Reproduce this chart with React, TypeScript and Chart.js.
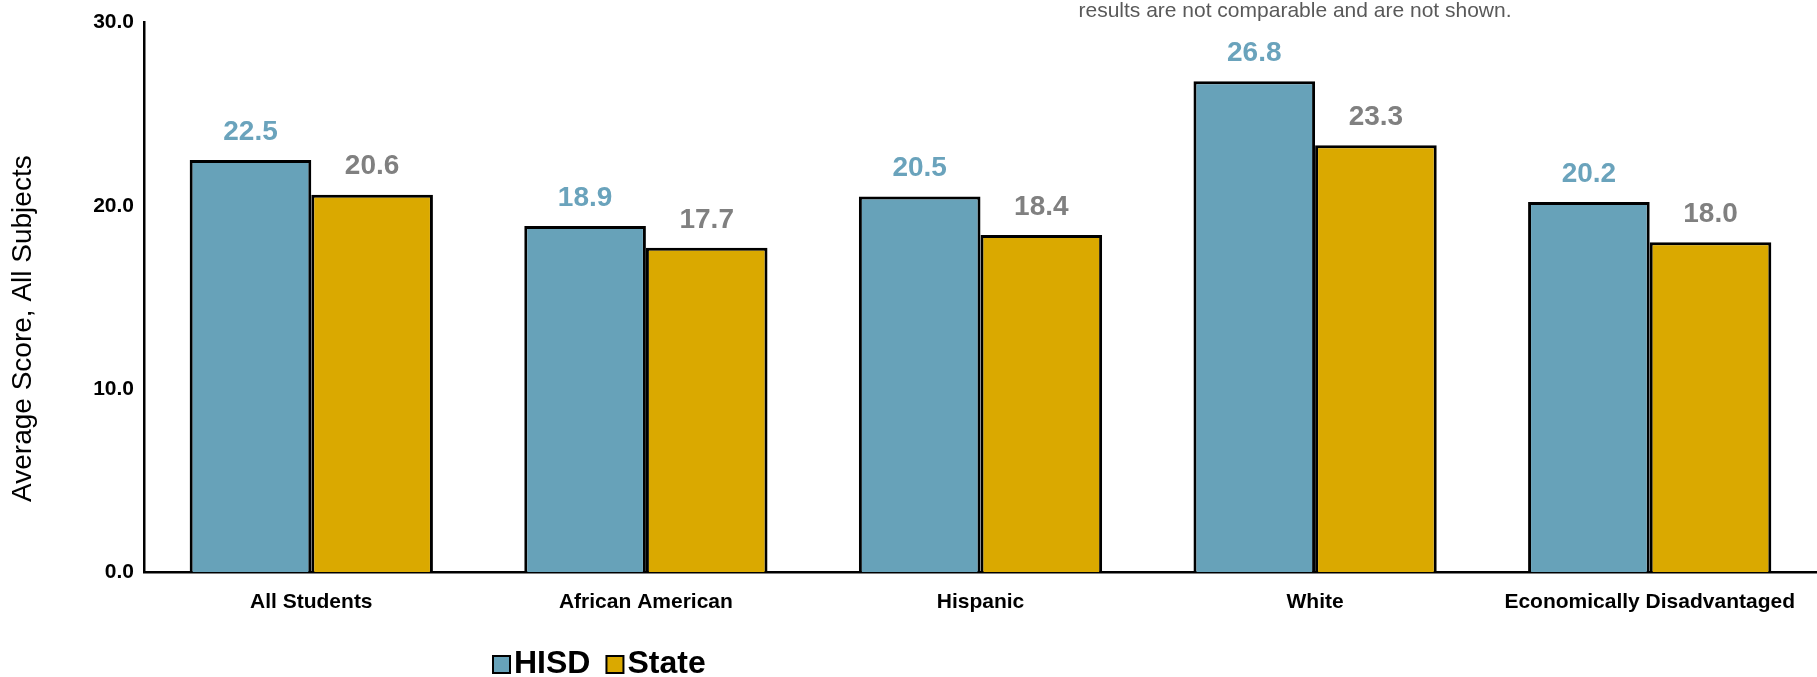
import React, { useEffect, useRef } from "react";
import { Chart, registerables } from "chart.js";

Chart.register(...registerables);

const categories = ["All Students", "African American", "Hispanic", "White", "Economically Disadvantaged"];
const hisdValues = [22.5, 18.9, 20.5, 26.8, 20.2];
const stateValues = [20.6, 17.7, 18.4, 23.3, 18.0];
const seriesNames = ["HISD", "State"];
const barColors = ["#67A2B9", "#DAA900"];
const labelColors = ["#6AA3BC", "#808080"];
const yTitle = "Average Score, All Subjects";
const noteText = "results are not comparable and are not shown.";
const yMax = 30;
const yStep = 10;

const FONT = "'Liberation Sans', Arial, sans-serif";

const extrasPlugin = {
  id: "extras",
  afterDatasetsDraw(chart: any) {
    const ctx = chart.ctx;
    ctx.save();
    ctx.font = `bold 28px ${FONT}`;
    ctx.textAlign = "center";
    ctx.textBaseline = "middle";
    chart.data.datasets.forEach((ds: any, di: number) => {
      const meta = chart.getDatasetMeta(di);
      meta.data.forEach((bar: any, i: number) => {
        ctx.fillStyle = labelColors[di];
        ctx.fillText(Number(ds.data[i]).toFixed(1), bar.x, bar.y - 28);
      });
    });
    ctx.restore();
  },
  afterDraw(chart: any) {
    const ctx = chart.ctx;
    const area = chart.chartArea;
    ctx.save();
    // y-axis title
    ctx.translate(area.left - 121, area.top + 306);
    ctx.rotate(-Math.PI / 2);
    ctx.font = `28px ${FONT}`;
    ctx.fillStyle = "#000000";
    ctx.textAlign = "center";
    ctx.textBaseline = "middle";
    ctx.fillText(yTitle, 0, 0);
    ctx.restore();

    // note text at top
    ctx.save();
    ctx.font = `21px ${FONT}`;
    ctx.fillStyle = "#595959";
    ctx.textAlign = "center";
    ctx.textBaseline = "alphabetic";
    ctx.fillText(noteText, area.left + 1151, 17);
    ctx.restore();

    // legend
    ctx.save();
    let x = area.left + 349;
    const cy = area.bottom + 92;
    ctx.font = `bold 32px ${FONT}`;
    ctx.textBaseline = "middle";
    ctx.textAlign = "left";
    seriesNames.forEach((name, i) => {
      ctx.fillStyle = barColors[i];
      ctx.fillRect(x, cy - 8, 17, 17);
      ctx.strokeStyle = "#000000";
      ctx.lineWidth = 2;
      ctx.strokeRect(x, cy - 8, 17, 17);
      x += 21;
      ctx.fillStyle = "#000000";
      ctx.fillText(name, x, cy);
      x += ctx.measureText(name).width + 16;
    });
    ctx.restore();
  },
};

export default function App() {
  const canvasRef = useRef<HTMLCanvasElement | null>(null);

  useEffect(() => {
    document.body.style.margin = "0";
    const canvas = canvasRef.current;
    if (!canvas) return;
    const chart = new Chart(canvas, {
      type: "bar",
      data: {
        labels: categories,
        datasets: [
          {
            label: seriesNames[0],
            data: hisdValues,
            backgroundColor: barColors[0],
            borderColor: "#000000",
            borderWidth: 3,
            categoryPercentage: 0.727,
            barPercentage: 1,
          },
          {
            label: seriesNames[1],
            data: stateValues,
            backgroundColor: barColors[1],
            borderColor: "#000000",
            borderWidth: 3,
            categoryPercentage: 0.727,
            barPercentage: 1,
          },
        ],
      },
      options: {
        animation: false,
        responsive: true,
        maintainAspectRatio: false,
        layout: { padding: { top: 21, left: 0, right: 0, bottom: 0 } },
        plugins: {
          legend: { display: false },
          tooltip: { enabled: false },
          title: { display: false },
        },
        scales: {
          x: {
            grid: { display: false, drawTicks: false },
            border: { display: true, color: "#000000", width: 2.5 },
            ticks: {
              color: "#000000",
              font: { family: FONT, size: 21, weight: "bold" },
              padding: 18,
              maxRotation: 0,
              autoSkip: false,
            },
            afterFit(scale: any) {
              scale.height = 105;
            },
          },
          y: {
            min: 0,
            max: yMax,
            grid: { display: false, drawTicks: false },
            border: { display: true, color: "#000000", width: 2.5 },
            ticks: {
              stepSize: yStep,
              color: "#000000",
              font: { family: FONT, size: 21, weight: "bold" },
              padding: 10,
              callback: (v: any) => Number(v).toFixed(1),
            },
            afterFit(scale: any) {
              scale.width = 144;
            },
          },
        },
      },
      plugins: [extrasPlugin],
    });
    return () => chart.destroy();
  }, []);

  return (
    <div style={{ width: "100vw", height: "677px", position: "relative" }}>
      <canvas ref={canvasRef} />
    </div>
  );
}
